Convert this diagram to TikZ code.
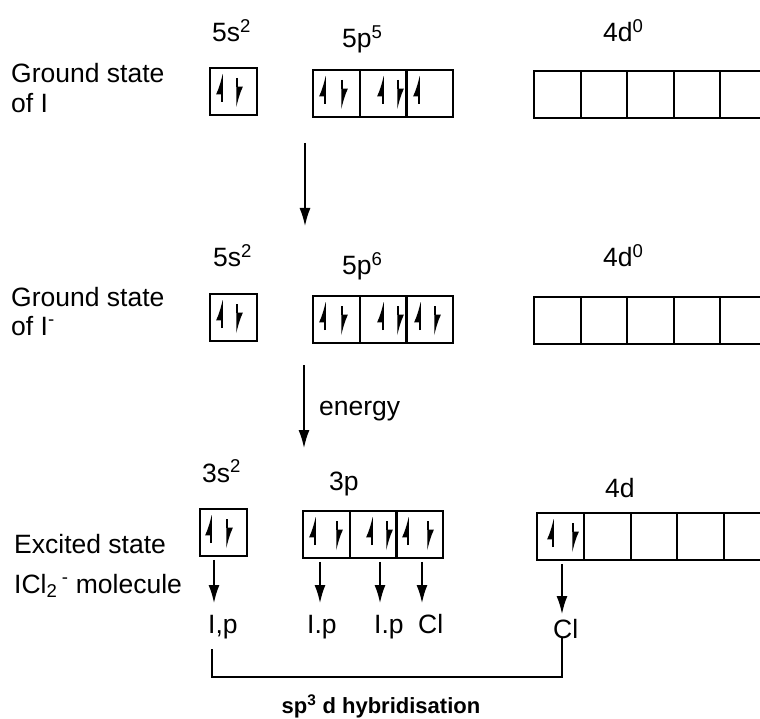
\documentclass[tikz,border=0pt]{standalone}
\usepackage{fontspec}
\setmainfont{Liberation Sans}
\usetikzlibrary{arrows.meta}

\begin{document}
\begin{tikzpicture}[x=1pt, y=-1pt, >={Latex[length=18pt,width=11pt]},
  orb/.style={draw, line width=1.8pt, minimum width=47pt, minimum height=47pt, inner sep=0pt, anchor=north west},
  txt/.style={inner sep=0pt, anchor=base west, font=\fontsize{26.5}{30}\selectfont},
  eup/.style={line width=1.5pt, -{Latex[harpoon, length=18pt, width=12pt]}},
  dn/.style={line width=1.5pt, ->}]

\useasboundingbox (0,0) rectangle (760,719);
\clip (0,0) rectangle (760,719);

% orbital boxes
\node[orb] (s1) at (209,67) {};
\foreach \i in {0,1,2} \node[orb] (p1\i) at (312+46.7*\i,69) {};
\foreach \i in {0,...,4} \node[orb] (d1\i) at (533+46.5*\i,70) {};

\node[orb] (s2) at (209,293) {};
\foreach \i in {0,1,2} \node[orb] (p2\i) at (312+46.7*\i,295) {};
\foreach \i in {0,...,4} \node[orb] (d2\i) at (533+46.5*\i,296) {};

\node[orb] (s3) at (199,508) {};
\foreach \i in {0,1,2} \node[orb] (p3\i) at (302+46.7*\i,510) {};
\foreach \i in {0,...,4} \node[orb] (d3\i) at (536+46.8*\i,512) {};

% electrons
\foreach \x/\t in {222/67,325/69,383/69,419/69,222/293,325/295,383/295,420/295,211/508,315/510,372/510,408/510,553/512}
  \draw[eup] (\x,\t+35) -- (\x,\t+6);
\foreach \x/\t in {237/67,342/69,398/69,237/293,342/295,398/295,435/295,227/508,337/510,387/510,428/510,573/512}
  \draw[eup] (\x,\t+11) -- (\x,\t+41);

% labels
\node[txt] (g1) at (11,83) {Ground state};
\node[txt] (g1b) at (11,113) {of I};
\node[txt] (g2) at (11,306) {Ground state};
\node[txt] (g2b) at (11,335) {of I\textsuperscript{-}};
\node[txt] (g3) at (14,553) {Excited state};
\node[txt] (g3b) at (14,593) {ICl\textsubscript{2}\,\textsuperscript{-} molecule};

\node[txt] (ls1) at (212,42) {5s\textsuperscript{2}};
\node[txt] (lp1) at (342,48) {5p\textsuperscript{5}};
\node[txt] (ld1) at (603,42) {4d\textsuperscript{0}};
\node[txt] (ls2) at (213,267) {5s\textsuperscript{2}};
\node[txt] (lp2) at (342,275) {5p\textsuperscript{6}};
\node[txt] (ld2) at (603,267) {4d\textsuperscript{0}};
\node[txt] (ls3) at (202,482) {3s\textsuperscript{2}};
\node[txt] (lp3) at (329,490) {3p};
\node[txt] (ld3) at (605,497) {4d};

% transitions
\coordinate (t1) at (305,143);
\coordinate (t2) at (305,226);
\draw[dn] (t1) -- (t2);
\coordinate (t3) at (304,365);
\coordinate (t4) at (304,448);
\draw[dn] (t3) -- (t4);
\node[txt] (en) at (319,415) {energy};

% hybrid orbitals
\node[txt] (h1) at (208,633) {I,p};
\node[txt] (h2) at (307,633) {I.p};
\node[txt] (h3) at (374,633) {I.p};
\node[txt] (h4) at (418,633) {Cl};
\node[txt] (h5) at (553,638) {Cl};
\foreach \n/\x/\y in {s3/214/603,p30/320/603,p31/380/603,p32/422/603,d30/562/614}{
  \coordinate (a\n) at (\x,\y);
  \draw[dn, shorten <=3pt] (\n.south -| a\n) -- (a\n);
}

\coordinate (b1) at (212,649);
\coordinate (b2) at (562,638);
\draw[line width=1.5pt] (b1) -- ++(0,28) -| (b2);
\node[txt, anchor=base, font=\fontsize{22}{26}\selectfont\bfseries] (hyb) at (381,713) {sp\textsuperscript{3} d hybridisation};

\end{tikzpicture}
\end{document}
